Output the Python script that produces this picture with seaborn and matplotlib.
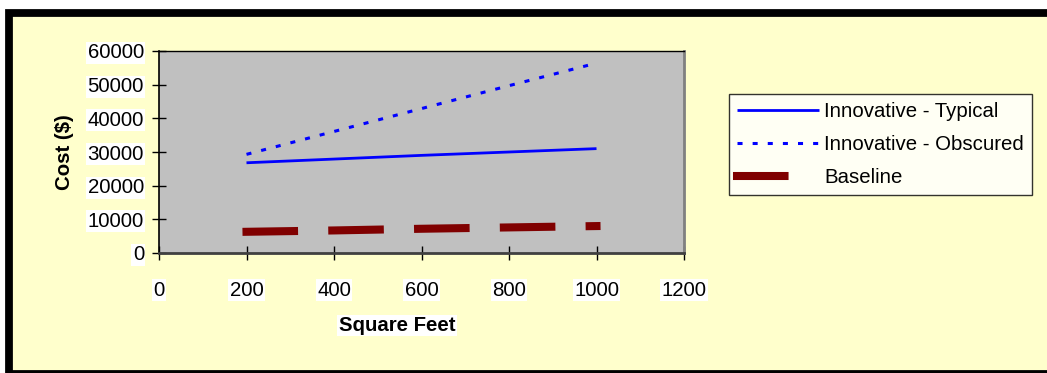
import numpy as np
import pandas as pd
import matplotlib
matplotlib.use("Agg")
import matplotlib.pyplot as plt
from matplotlib.patches import Rectangle
import seaborn as sns

# data
sq_feet = [200, 400, 600, 800, 1000]
typical = [26800, 27900, 29000, 30000, 31000]
obscured = [29300, 36100, 42900, 49700, 56400]
baseline = [6300, 6700, 7200, 7600, 8000]

x_ticks = [0, 200, 400, 600, 800, 1000, 1200]
y_ticks = [0, 10000, 20000, 30000, 40000, 50000, 60000]

df = pd.DataFrame({
    "Square Feet": sq_feet * 3,
    "Cost": typical + obscured + baseline,
    "series": ["Innovative - Typical"] * 5 + ["Innovative - Obscured"] * 5 + ["Baseline"] * 5,
})

sns.set_style("white")
plt.rcParams["font.family"] = ["Liberation Sans", "DejaVu Sans"]
plt.rcParams["text.color"] = "black"
plt.rcParams["axes.labelcolor"] = "black"

YELLOW = "#FFFFCC"
FS = 14.7
fig = plt.figure(figsize=(10.47, 3.73), dpi=100)
fig.patch.set_facecolor("white")

# outer chart frame (yellow fill, thick black edge, cut off at right/bottom)
fig.patches.append(Rectangle((8.8 / 1047, -0.5 / 373), 1.05, 360.7 / 373,
                             transform=fig.transFigure, facecolor=YELLOW,
                             edgecolor="black", linewidth=5.6, zorder=-10))

ax = fig.add_axes([159 / 1047, 1 - 253 / 373, 525 / 1047, 202 / 373])
ax.set_facecolor("#C0C0C0")

styles = {
    "Innovative - Typical": dict(color="#0000FF", linewidth=2.0, linestyle="-",
                                 solid_capstyle="butt"),
    "Innovative - Obscured": dict(color="#0000FF", linewidth=2.2,
                                  linestyle=(0, (1.65, 3.3))),
    "Baseline": dict(color="#800000", linewidth=5.8, linestyle=(0, (5.9, 4.75)),
                     dash_capstyle="projecting"),
}
for name, kw in styles.items():
    sub = df[df["series"] == name]
    sns.lineplot(data=sub, x="Square Feet", y="Cost", ax=ax, label=name, **kw)

ax.set_xlim(0, 1200)
ax.set_ylim(0, 60000)
ax.set_xticks(x_ticks)
ax.set_yticks(y_ticks)
ax.set_xticklabels([str(v) for v in x_ticks])
ax.set_yticklabels([str(v) for v in y_ticks])
ax.tick_params(axis="both", direction="inout", length=10, width=1, labelsize=FS,
               colors="black", left=True, bottom=True)
ax.tick_params(axis="x", pad=15)
ax.tick_params(axis="y", pad=5.8)
for lab in ax.get_xticklabels() + ax.get_yticklabels():
    lab.set_bbox(dict(facecolor="white", edgecolor="none", pad=1))

ax.spines["left"].set_color("black")
ax.spines["left"].set_linewidth(1.2)
ax.spines["bottom"].set_color("#404040")
ax.spines["bottom"].set_linewidth(2)
ax.spines["top"].set_color("black")
ax.spines["top"].set_linewidth(1)
ax.spines["right"].set_color("#808080")
ax.spines["right"].set_linewidth(2)

ax.set_xlabel("Square Feet", fontsize=FS, fontweight="bold",
              bbox=dict(facecolor="white", edgecolor="none", pad=1))
ax.set_ylabel("Cost ($)", fontsize=FS, fontweight="bold")
ax.xaxis.set_label_coords((397 - 159) / 525, (253 - 316) / 202)
ax.yaxis.set_label_coords((74 - 159) / 525, 0.5)

leg = ax.legend(loc="upper left", bbox_to_anchor=(729 / 1047, 1 - 94 / 373),
                bbox_transform=fig.transFigure, fontsize=FS, frameon=True,
                fancybox=False, shadow=False, borderaxespad=0, borderpad=0.4,
                handlelength=4.0, handletextpad=0.25, labelspacing=0.68)
leg.get_frame().set_edgecolor("black")
leg.get_frame().set_facecolor("white")
leg.get_frame().set_linewidth(1)

fig.savefig("out.png", dpi=100, facecolor=fig.get_facecolor())
